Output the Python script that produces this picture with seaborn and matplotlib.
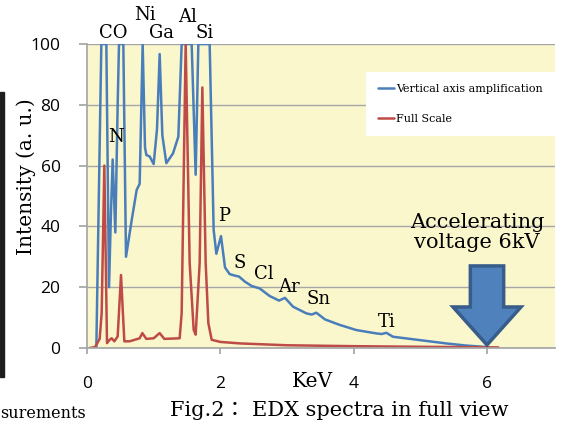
import numpy as np
import pandas as pd
import matplotlib
matplotlib.use("Agg")
import matplotlib.pyplot as plt
from matplotlib.patches import FancyArrow, Rectangle
import seaborn as sns

# EDX spectrum (KeV, intensity a.u.)
# blue curve is the vertically amplified spectrum, clipped at the top of the axis
amp_kev = [0.14, 0.17, 0.215, 0.29, 0.33, 0.36, 0.385, 0.425, 0.46, 0.48, 0.545, 0.585,
           0.67, 0.745, 0.79, 0.835, 0.87, 0.89, 0.94, 1.0, 1.05, 1.09, 1.13, 1.19, 1.29,
           1.37, 1.42, 1.57, 1.63, 1.67, 1.84, 1.90, 1.94, 2.01, 2.07, 2.14, 2.22, 2.28,
           2.37, 2.47, 2.59, 2.74, 2.88, 2.97, 3.09, 3.29, 3.37, 3.44, 3.57, 3.79, 4.04,
           4.34, 4.42, 4.49, 4.59, 4.99, 5.39, 5.69, 6.0]
amp_val = [0, 40, 100, 100, 20, 45, 62, 38, 80, 100, 100, 30,
           42, 52, 54, 100, 66, 63.5, 63, 60.5, 72, 96.7, 70, 60.8, 64,
           69.5, 100, 100, 57, 100, 100, 38.8, 31, 36.8, 26.5, 24.3, 23.8, 23.5,
           21.8, 20.4, 19.6, 17.1, 15.6, 16.5, 13.6, 11.4, 11.0, 11.6, 9.4, 7.6, 5.9,
           4.8, 4.6, 5.0, 3.7, 2.6, 1.5, 0.8, 0.3]

full_kev = [0.04, 0.12, 0.19, 0.22, 0.26, 0.30, 0.34, 0.37, 0.41, 0.46, 0.51, 0.56,
            0.64, 0.79, 0.83, 0.89, 1.0, 1.09, 1.16, 1.39, 1.42, 1.48, 1.54, 1.60,
            1.63, 1.69, 1.73, 1.78, 1.82, 1.87, 2.0, 2.3, 3.0, 4.0, 5.0, 6.17]
full_val = [0, 0.3, 3, 11.5, 60, 1.6, 2.7, 3.2, 2.2, 3.8, 24, 2.2,
            2.2, 3.2, 4.9, 3.0, 3.2, 4.9, 3.0, 3.2, 11.5, 100, 28, 6,
            4.4, 28, 85.7, 28, 8.2, 2.7, 2.0, 1.5, 0.9, 0.6, 0.4, 0.2]

# element labels and where they sit
elements = ["CO", "Ni", "Ga", "Al", "Si", "N", "P", "S", "Cl", "Ar", "Sn", "Ti"]
elem_kev = [0.39, 0.87, 1.12, 1.51, 1.77, 0.43, 2.05, 2.29, 2.65, 3.03, 3.48, 4.50]
elem_val = [103.5, 109.5, 103.5, 109, 103.5, 69.5, 43.5, 28, 24.5, 20, 16, 8.5]

series_names = ["Vertical axis amplification", "Full Scale"]
series_colors = ["#4A7EBB", "#BE4B48"]

amp = pd.DataFrame({"kev": amp_kev, "val": amp_val})
full = pd.DataFrame({"kev": full_kev, "val": full_val})

sns.set_theme(style="white", rc={"text.color": "black", "xtick.color": "black",
                                 "ytick.color": "black", "axes.labelcolor": "black"})
serif = ["DejaVu Serif", "Noto Sans CJK JP"]
plt.rcParams["font.family"] = ["Open Sans", "DejaVu Sans"]

fig = plt.figure(figsize=(5.65, 4.23), dpi=100)
ax = fig.add_axes([87 / 565, 1 - 348 / 423, 468 / 565, 304 / 423])
ax.set_facecolor("#FAF7CD")

sns.lineplot(data=amp, x="kev", y="val", ax=ax, color=series_colors[0], lw=1.8,
             label=series_names[0], estimator=None, sort=False)
sns.lineplot(data=full, x="kev", y="val", ax=ax, color=series_colors[1], lw=1.8,
             label=series_names[1], estimator=None, sort=False)

ax.set_xlim(0, 7.02)
ax.set_ylim(0, 100)
ax.set_xticks([0, 2, 4, 6])
ax.set_yticks([0, 20, 40, 60, 80, 100])
ax.yaxis.grid(True, color="#A6A6A6", lw=1)
ax.set_axisbelow(True)
for side in ["top", "right"]:
    ax.spines[side].set_visible(False)
for side in ["left", "bottom"]:
    ax.spines[side].set_color("#A6A6A6")
ax.tick_params(axis="y", length=6, color="#A6A6A6", labelcolor="black", pad=13,
               labelsize=12.5, left=True)
ax.tick_params(axis="x", length=4.5, color="#A6A6A6", labelcolor="black", pad=16,
               labelsize=12.5, bottom=True)

ax.set_xlabel("")
ax.set_ylabel("Intensity (a. u.)", fontsize=14.5, family=serif)
ax.yaxis.set_label_coords(-0.108, 0.565)

for name, x, y in zip(elements, elem_kev, elem_val):
    ax.text(x, y, name, ha="center", va="center", fontsize=13, family=serif,
            clip_on=False)

ax.text(5.85, 38, "Accelerating\nvoltage 6kV", ha="center", va="center", fontsize=15,
        family=serif, linespacing=1.1)
arrow = FancyArrow(6.0, 27, 0, -26, width=0.5, head_width=1.02, head_length=12.5,
                   length_includes_head=True, facecolor="#4F81BD", edgecolor="#385D8A",
                   lw=2.5, zorder=5)
ax.add_patch(arrow)

leg = ax.legend(loc="upper right", bbox_to_anchor=(1.0, 0.908), borderaxespad=0,
                frameon=True, fancybox=False, framealpha=1, facecolor="white",
                edgecolor="none", prop={"family": serif, "size": 8},
                handlelength=1.4, handletextpad=0.2, labelspacing=1.75,
                borderpad=1.1)

fig.text(312 / 565, 1 - 381 / 423, "KeV", ha="center", va="center", fontsize=14.5,
         family=serif)
fig.text(339 / 565, 1 - 410 / 423, "Fig.2： EDX spectra in full view", ha="center",
         va="center", fontsize=15, family=serif)
fig.text(0.0, 1 - 422 / 423, "surements", ha="left", va="bottom", fontsize=11.5,
         family=serif)
fig.add_artist(Rectangle((0, 1 - 377 / 423), 4 / 565, 285 / 423,
                         transform=fig.transFigure, color="#1E1E1E"))

fig.savefig("out.png", dpi=100)
